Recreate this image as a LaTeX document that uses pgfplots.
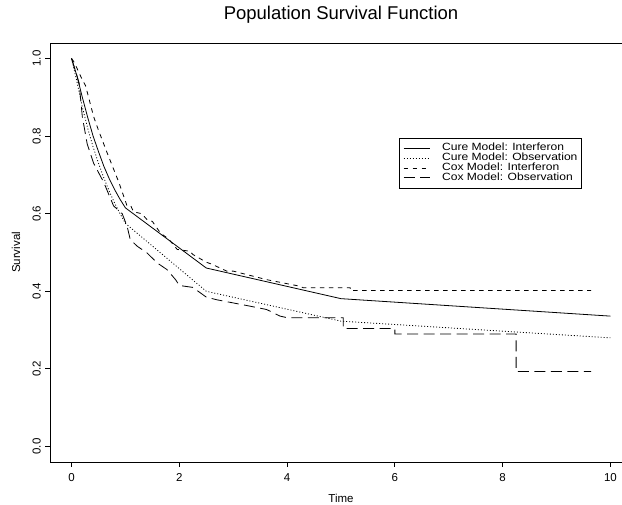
\documentclass[border=0pt]{standalone}
\usepackage{fontspec}
\setmainfont{Liberation Sans}
\newfontfamily\legfont[FakeStretch=1.15]{Liberation Sans}
\usepackage{pgfplots}
\pgfplotsset{compat=1.18}
\usetikzlibrary{calc}

\begin{document}
\begin{tikzpicture}
\begin{axis}[
    scale only axis,
    width=582pt, height=419pt,
    xmin=-0.4, xmax=10.4, ymin=-0.04, ymax=1.04,
    xtick={0,2,4,6,8,10},
    ytick={0,0.2,0.4,0.6,0.8,1},
    xtick pos=lower, ytick pos=left,
    tick align=outside, major tick length=5pt,
    axis line style={line width=0.8pt},
    every tick/.style={black, line width=0.8pt},
    /pgf/number format/assume math mode=true,
    ticklabel style={font=\fontsize{11.5}{13}\selectfont},
    xticklabel style={anchor=north, inner sep=0pt},
    xticklabel shift=6pt,
    yticklabel style={rotate=90, anchor=south, inner sep=0pt,
        /pgf/number format/.cd, fixed, fixed zerofill, precision=1},
    yticklabel shift=4pt,
    title={Population Survival Function},
    title style={at={(axis description cs:0.5,1.0413)}, anchor=base,
        font=\fontsize{18.5}{22}\selectfont},
    xlabel={Time},
    ylabel={Survival},
    every axis x label/.style={at={(axis description cs:0.5,-0.0871)}, anchor=center,
        font=\fontsize{11.5}{13}\selectfont},
    every axis y label/.style={at={(axis description cs:-0.0584,0.5)}, rotate=90, anchor=center,
        font=\fontsize{11.5}{13}\selectfont},
    legend style={at={(axis description cs:0.5997,0.773)}, anchor=north west,
        draw=black, line width=0.6pt,
        inner xsep=4pt, inner ysep=5.5pt,
        font=\legfont\fontsize{10.5}{10}\selectfont,
        nodes={inner sep=0pt, text height=7pt, text depth=2.5pt},
        row sep=0.2pt, column sep=12pt},
    legend cell align=left,
    legend image code/.code={\draw[#1] (0pt,0pt) -- (26pt,0pt);},
]
% Cure Model: Interferon
\addplot[black, line width=0.8pt] coordinates {
    (0,1.0) (0.1,0.955) (0.2,0.9) (0.3,0.848) (0.4,0.8) (0.5,0.76)
    (0.6,0.722) (0.7,0.69) (0.8,0.662) (0.9,0.637) (1.0,0.615)
    (2.5,0.46) (5.0,0.381) (10.0,0.336)};
% Cure Model: Observation
\addplot[black, line width=0.8pt, dash pattern=on 1pt off 2pt] coordinates {
    (0,1.0) (0.1,0.94) (0.2,0.875) (0.3,0.82) (0.4,0.772) (0.5,0.73)
    (0.6,0.692) (0.7,0.658) (0.8,0.627) (0.9,0.6) (1.0,0.575)
    (2.5,0.40) (5.0,0.323) (10.0,0.28)};
% Cox Model: Interferon (Kaplan-Meier type steps, corners written out)
\addplot[black, line width=0.8pt, dash pattern=on 4.5pt off 4.5pt] coordinates {
    (0,1.0) (0.05,0.99) (0.1,0.975) (0.2,0.945) (0.26,0.93) (0.41,0.85)
    (0.5,0.815) (0.66,0.757) (0.88,0.68) (1.03,0.62) (1.1,0.62)
    (1.15,0.605) (1.3,0.60) (1.4,0.585) (1.5,0.58) (1.65,0.55)
    (1.8,0.535) (1.96,0.508) (2.2,0.503) (2.25,0.495) (2.5,0.475)
    (2.6,0.47) (2.88,0.452) (3.0,0.452) (3.62,0.43) (4.24,0.413)
    (4.3,0.409) (5.17,0.409) (5.17,0.402) (9.64,0.402)};
% Cox Model: Observation
\addplot[black, line width=0.8pt, dash pattern=on 11pt off 5.5pt] coordinates {
    (0,1.0) (0.08,0.965) (0.14,0.937) (0.2,0.85) (0.29,0.78) (0.41,0.73)
    (0.6,0.68) (0.78,0.62) (0.94,0.60) (1.03,0.568) (1.09,0.533)
    (1.22,0.516) (1.4,0.499) (1.59,0.473) (1.77,0.456) (1.93,0.43)
    (2.0,0.415) (2.25,0.41) (2.4,0.395) (2.5,0.385) (2.7,0.378)
    (3.0,0.37) (3.3,0.362) (3.62,0.353) (3.87,0.336) (4.0,0.332)
    (5.04,0.332) (5.04,0.304) (6.0,0.304) (6.0,0.29) (8.25,0.29)
    (8.25,0.193) (9.64,0.193)};
\legend{Cure Model: Interferon, Cure Model: Observation,
        Cox Model: Interferon, Cox Model: Observation}
\end{axis}
\pgfresetboundingbox
\path ($(current axis.south west)+(-50pt,-43pt)$) rectangle ($(current axis.north east)+(-10pt,43pt)$);
\end{tikzpicture}
\end{document}
